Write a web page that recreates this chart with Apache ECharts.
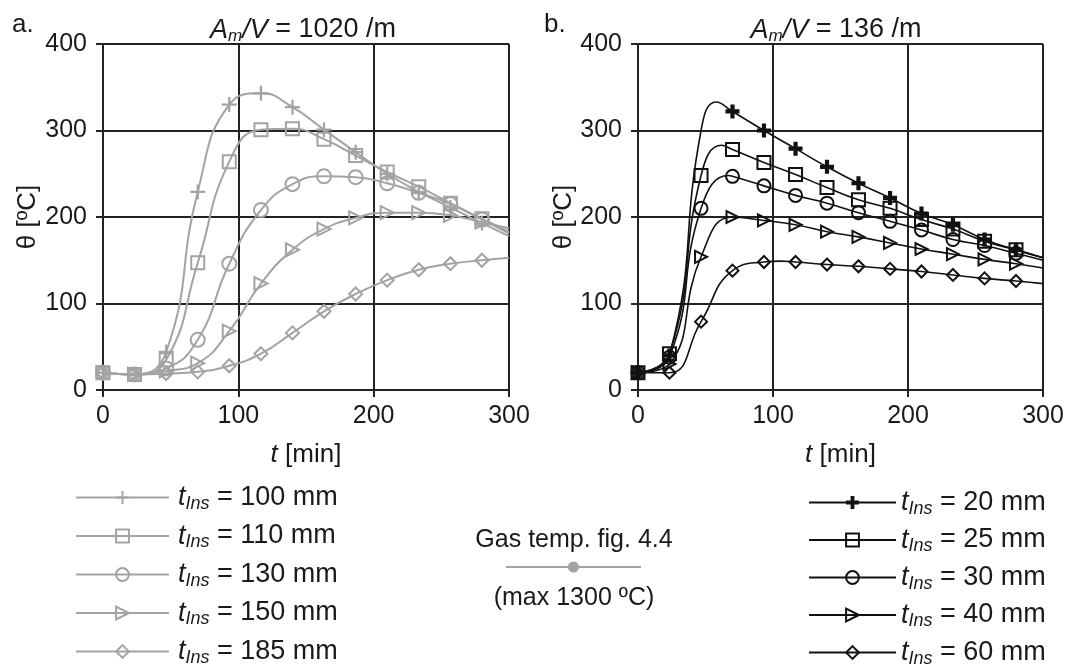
<!DOCTYPE html>
<html>
<head>
<meta charset="utf-8">
<script src="https://cdn.jsdelivr.net/npm/echarts@6/dist/echarts.min.js"></script>
<style>
  html, body { margin: 0; padding: 0; background: #fff; }
  #chart { width: 1071px; height: 665px; }
</style>
</head>
<body>
<div id="chart"></div>
<script>
// times (min) where the markers sit, shared by every curve
const markerT = [0, 23.3, 46.7, 70, 93.3, 116.7, 140, 163.3, 186.7, 210, 233.3, 256.7, 280];

// panel a: Am/V = 1020 /m
const a100 = [20, 18, 44, 229, 330, 343, 327, 301, 275, 250, 229, 211, 193];
const a110 = [20, 18, 35, 147, 264, 301, 302, 290, 271, 252, 235, 216, 198];
const a130 = [20, 18, 25, 58, 146, 208, 238, 247, 246, 239, 228, 215, 197];
const a150 = [20, 18, 22, 31, 68, 123, 162, 186, 199, 205, 205, 202, 194];
const a185 = [20, 18, 19, 21, 28, 42, 66, 91, 111, 127, 139, 146, 150];
// extra points read off the curves between/after markers (no marker drawn)
const a100Extra = [[300, 178]];
const a110Extra = [[300, 183]];
const a130Extra = [[300, 181]];
const a150Extra = [[300, 187]];
const a185Extra = [[300, 153]];

// panel b: Am/V = 136 /m  (null = marker hidden in the original)
const b20 = [20, 40, null, 322, 300, 279, 258, 239, 222, 204, 191, 174, 162];
const b25 = [20, 42, 248, 278, 263, 249, 234, 220, 210, 197, 186, 172, 162];
const b30 = [20, 38, 210, 247, 236, 225, 216, 205, 195, 185, 174, 167, 158];
const b40 = [20, 30, 154, 200, 196, 191, 183, 177, 170, 163, 157, 151, 146];
const b60 = [20, 20, 79, 138, 148, 148, 145, 143, 140, 137, 133, 129, 126];
const b20Extra = [[46.7, 300], [58, 333], [300, 153]];
const b25Extra = [[62, 283], [300, 153]];
const b30Extra = [[67, 248], [300, 150]];
const b40Extra = [[300, 141]];
const b60Extra = [[105, 149], [300, 123]];

const FONT = '"Liberation Sans", Arial, sans-serif';
const GREY = '#a3a3a3';
const BLACK = '#111';
const TEXT = '#1a1a1a';
const AXIS = '#222';

const plusThin = 'path://M8.5,0H11.5V20H8.5ZM0,8.5H20V11.5H0Z';
const plusBold = 'path://M7,0H13V20H7ZM0,7H20V13H0Z';

function hollow(color, w) {
  return { color: 'rgba(0,0,0,0)', borderColor: color, borderWidth: w };
}

function curve(name, values, extra, axis, color, symbol, size, itemStyle, rotate, lineWidth) {
  const pts = [];
  markerT.forEach((t, i) => {
    if (values[i] != null) pts.push({ value: [t, values[i]] });
  });
  extra.forEach(p => pts.push({ value: p, symbol: 'none' }));
  pts.sort((p, q) => p.value[0] - q.value[0]);
  return {
    type: 'line',
    name: name,
    xAxisIndex: axis,
    yAxisIndex: axis,
    data: pts,
    smooth: 0.5,
    symbol: symbol,
    symbolSize: size,
    symbolRotate: rotate || 0,
    lineStyle: { color: color, width: lineWidth },
    itemStyle: itemStyle,
    emphasis: { disabled: true },
    silent: true
  };
}

const series = [
  curve('100 mm', a100, a100Extra, 0, GREY, plusThin, 15, { color: GREY, borderWidth: 0 }, 0, 2),
  curve('110 mm', a110, a110Extra, 0, GREY, 'rect', 13, hollow(GREY, 2), 0, 2),
  curve('130 mm', a130, a130Extra, 0, GREY, 'circle', 14, hollow(GREY, 2), 0, 2),
  curve('150 mm', a150, a150Extra, 0, GREY, 'triangle', 13, hollow(GREY, 2), -90, 2),
  curve('185 mm', a185, a185Extra, 0, GREY, 'diamond', 13, hollow(GREY, 2), 0, 2),
  curve('20 mm', b20, b20Extra, 1, BLACK, plusBold, 14, { color: BLACK, borderWidth: 0 }, 0, 1.6),
  curve('25 mm', b25, b25Extra, 1, BLACK, 'rect', 13, hollow(BLACK, 2), 0, 1.6),
  curve('30 mm', b30, b30Extra, 1, BLACK, 'circle', 13, hollow(BLACK, 2), 0, 1.6),
  curve('40 mm', b40, b40Extra, 1, BLACK, 'triangle', 12, hollow(BLACK, 2), -90, 1.6),
  curve('60 mm', b60, b60Extra, 1, BLACK, 'diamond', 12, hollow(BLACK, 2), 0, 1.6),
  {
    type: 'line', name: 'Gas temp. fig. 4.4', xAxisIndex: 0, yAxisIndex: 0, data: [],
    symbol: 'circle', lineStyle: { color: GREY, width: 2 }, itemStyle: { color: GREY }
  }
];

function xAxis(gridIndex) {
  return {
    gridIndex: gridIndex, type: 'value', min: 0, max: 300, interval: 100,
    name: '{i|t} [min]', nameLocation: 'middle', nameGap: 52,
    nameTextStyle: { fontFamily: FONT, fontSize: 26, color: TEXT, rich: { i: { fontStyle: 'italic', fontFamily: FONT, fontSize: 26, color: TEXT } } },
    axisLine: { lineStyle: { color: AXIS, width: 2 } },
    axisTick: { length: 7, lineStyle: { color: AXIS, width: 2 } },
    splitLine: { lineStyle: { color: AXIS, width: 2 } },
    axisLabel: { fontFamily: FONT, fontSize: 25, color: TEXT, margin: 14 }
  };
}
function yAxis(gridIndex, gap) {
  return {
    gridIndex: gridIndex, type: 'value', min: 0, max: 400, interval: 100,
    name: 'θ [ºC]', nameLocation: 'middle', nameGap: gap,
    nameTextStyle: { fontFamily: FONT, fontSize: 26, color: TEXT },
    axisLine: { show: true, lineStyle: { color: AXIS, width: 2 } },
    axisTick: { show: true, length: 7, lineStyle: { color: AXIS, width: 2 } },
    splitLine: { lineStyle: { color: AXIS, width: 2 } },
    axisLabel: { fontFamily: FONT, fontSize: 25, color: TEXT, margin: 16 }
  };
}

const legendRich = {
  t: { fontStyle: 'italic', fontFamily: FONT, fontSize: 27, color: TEXT, lineHeight: 30 },
  s: { fontStyle: 'italic', fontFamily: FONT, fontSize: 18, color: TEXT, lineHeight: 15, verticalAlign: 'bottom' },
  n: { fontFamily: FONT, fontSize: 27, color: TEXT, lineHeight: 30 }
};
function legend(names, left, top, width, gap, pad) {
  return {
    orient: 'vertical', left: left, top: top, height: 220, itemWidth: width, itemHeight: 16, itemGap: gap,
    data: names, selectedMode: false, padding: 0,
    formatter: n => '{t|t}{s|Ins}{n| = ' + n + '}',
    textStyle: { rich: legendRich, padding: [0, 0, 0, pad] }
  };
}

const titleRich = {
  i: { fontStyle: 'italic', fontWeight: 'normal', fontFamily: FONT, fontSize: 27, color: TEXT, lineHeight: 30 },
  s: { fontStyle: 'italic', fontWeight: 'normal', fontFamily: FONT, fontSize: 17, color: TEXT, lineHeight: 14, verticalAlign: 'bottom' },
  n: { fontWeight: 'normal', fontFamily: FONT, fontSize: 27, color: TEXT, lineHeight: 30 }
};

const chart = echarts.init(document.getElementById('chart'), null, { renderer: 'canvas' });
chart.setOption({
  animation: false,
  backgroundColor: '#fff',
  title: [
    { text: '{i|A}{s|m}{i|/V}{n| = 1020 /m}', left: 298, top: 10, textAlign: 'center', textStyle: { fontWeight: 'normal', rich: titleRich } },
    { text: '{i|A}{s|m}{i|/V}{n| = 136 /m}', left: 831, top: 10, textAlign: 'center', textStyle: { fontWeight: 'normal', rich: titleRich } }
  ],
  grid: [
    { left: 103, top: 44, width: 406, height: 346 },
    { left: 638, top: 44, width: 405, height: 346 }
  ],
  xAxis: [xAxis(0), xAxis(1)],
  yAxis: [yAxis(0, 62), yAxis(1, 60)],
  legend: [
    legend(['100 mm', '110 mm', '130 mm', '150 mm', '185 mm'], 75, 484, 93, 10, 4),
    legend(['20 mm', '25 mm', '30 mm', '40 mm', '60 mm'], 808, 489, 87, 9, 0),
    { left: 505, top: 560, itemWidth: 135, itemHeight: 14, padding: 0, selectedMode: false,
      data: ['Gas temp. fig. 4.4'], formatter: () => '' }
  ],
  graphic: [
    { type: 'text', left: 12, top: 12, style: { text: 'a.', font: '26px ' + FONT, fill: TEXT } },
    { type: 'text', left: 544, top: 12, style: { text: 'b.', font: '26px ' + FONT, fill: TEXT } },
    { type: 'text', x: 574, y: 540, style: { text: 'Gas temp. fig. 4.4', font: '25px ' + FONT, fill: TEXT, align: 'center', verticalAlign: 'middle' } },
    { type: 'text', x: 574, y: 598, style: { text: '(max 1300 ºC)', font: '25px ' + FONT, fill: TEXT, align: 'center', verticalAlign: 'middle' } }
  ],
  series: series
});
</script>
</body>
</html>
